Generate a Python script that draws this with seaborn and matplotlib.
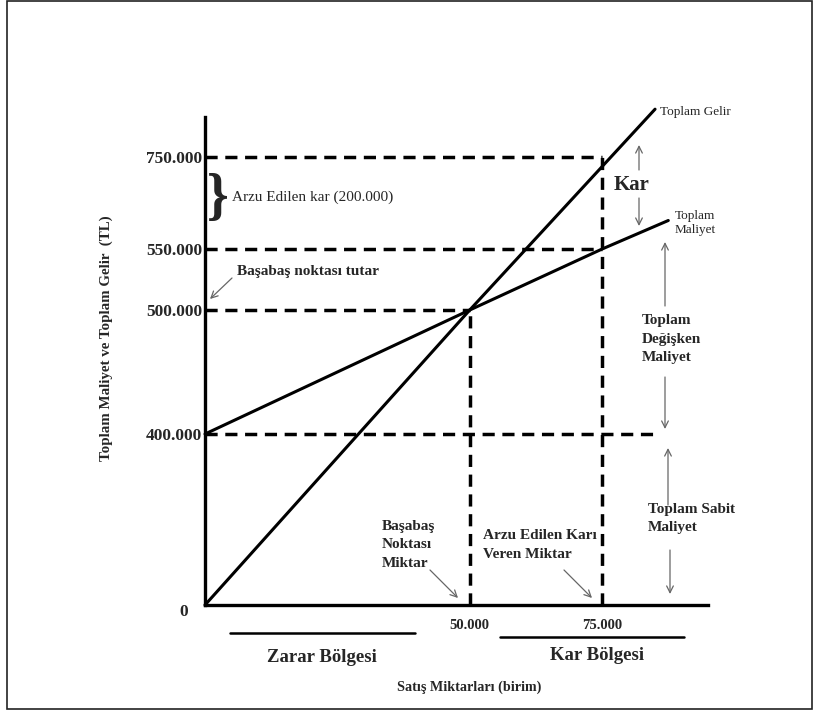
import numpy as np
import pandas as pd
import matplotlib
matplotlib.use("Agg")
import matplotlib.pyplot as plt
from matplotlib.patches import Rectangle
from matplotlib.lines import Line2D
import seaborn as sns

# ---- data ----
units = [0, 50000, 85000]                      # satis miktari
revenue = [0, 500000, 854000]                  # toplam gelir
cost_units = [0, 50000, 75000, 87500]
cost = [400000, 500000, 550000, 612000]        # toplam maliyet

ytick_vals = [400000, 500000, 550000, 750000]
ytick_labels = ["400.000", "500.000", "550.000", "750.000"]
xtick_vals = [50000, 75000]
xtick_labels = ["50.000", "75.000"]

breakeven_q, breakeven_tl = 50000, 500000
target_q, target_tl = 75000, 750000
target_cost = 550000
fixed_cost = 400000
fixed_line_end = 85000

df = pd.DataFrame({
    "miktar": units + cost_units,
    "tutar": revenue + cost,
    "seri": ["Toplam Gelir"] * len(units) + ["Toplam Maliyet"] * len(cost_units),
})

# schematic (non-linear) y axis of the original drawing
scale_vals = [-100000, 0, 400000, 500000, 550000, 750000, 1000000]
scale_pos = [-42.75, 0, 171, 295, 356, 448, 563]


def fwd(v):
    return np.interp(v, scale_vals, scale_pos)


def inv(p):
    return np.interp(p, scale_pos, scale_vals)


sns.set_theme(style="white")
plt.rcParams["font.family"] = ["Liberation Serif", "DejaVu Serif"]

W, H = 814, 720
fig = plt.figure(figsize=(W / 100, H / 100), dpi=100)


def fx(x):
    return x / W


def fy(y):
    return 1 - y / H


ax = fig.add_axes([fx(205), fy(605), 503 / W, 488 / H])
ax.set_yscale("function", functions=(fwd, inv))

sns.lineplot(data=df, x="miktar", y="tutar", hue="seri", units="seri",
             estimator=None, sort=False, legend=False,
             palette={"Toplam Gelir": "black", "Toplam Maliyet": "black"},
             linewidth=2.2, ax=ax)
for ln in ax.lines:
    ln.set_clip_on(False)

# dashed guide lines
dash = dict(color="black", linewidth=2.5, dashes=(3.5, 2.2), clip_on=False)
ax.plot([0, target_q], [target_tl, target_tl], **dash)
ax.plot([0, target_q], [target_cost, target_cost], **dash)
ax.plot([0, breakeven_q], [breakeven_tl, breakeven_tl], **dash)
ax.plot([0, fixed_line_end], [fixed_cost, fixed_cost], **dash)
ax.plot([breakeven_q, breakeven_q], [0, breakeven_tl], **dash)
ax.plot([target_q, target_q], [0, target_tl], **dash)

ax.set_xlim(0, 95000)
ax.set_ylim(0, 837000)
ax.set_yticks(ytick_vals)
ax.set_yticklabels(ytick_labels, fontsize=12.5, fontweight="bold")
ax.set_xticks(xtick_vals)
ax.set_xticklabels(xtick_labels, fontsize=10.5, fontweight="bold")
ax.tick_params(axis="y", length=0, pad=2)
ax.tick_params(axis="x", length=0, pad=10)
ax.set_xlabel("")
ax.set_ylabel("")
sns.despine(ax=ax)
for s in ["left", "bottom"]:
    ax.spines[s].set_linewidth(2.4)
    ax.spines[s].set_color("black")
ax.grid(False)

# ---- texts ----
fig.text(fx(184), fy(612), "0", fontsize=12.5, fontweight="bold", ha="center", va="center")
fig.text(fx(106), fy(338), "Toplam Maliyet ve Toplam Gelir  (TL)", rotation=90,
         fontsize=10.8, fontweight="bold", ha="center", va="center")
fig.text(fx(469), fy(687), "Satış Miktarları (birim)", fontsize=10.2,
         fontweight="bold", ha="center", va="center")

fig.text(fx(660), fy(112), "Toplam Gelir", fontsize=9.5, ha="left", va="center")
fig.text(fx(675), fy(223), "Toplam\nMaliyet", fontsize=9.5, ha="left", va="center",
         linespacing=1.2)
fig.text(fx(632), fy(185), "Kar", fontsize=15, fontweight="bold", ha="center", va="center")
fig.text(fx(642), fy(339), "Toplam\nDeğişken\nMaliyet", fontsize=11, fontweight="bold",
         ha="left", va="center", linespacing=1.55)
fig.text(fx(648), fy(518), "Toplam Sabit\nMaliyet", fontsize=11, fontweight="bold",
         ha="left", va="center", linespacing=1.5)

fig.text(fx(218), fy(199), "}", fontsize=40, fontweight="bold", ha="center", va="center")
fig.text(fx(232), fy(197), "Arzu Edilen kar (200.000)", fontsize=11,
         ha="left", va="center")
fig.text(fx(237), fy(271), "Başabaş noktası tutar", fontsize=11, fontweight="bold",
         ha="left", va="center")
fig.text(fx(382), fy(545), "Başabaş\nNoktası\nMiktar", fontsize=11, fontweight="bold",
         ha="left", va="center", linespacing=1.55)
fig.text(fx(483), fy(545), "Arzu Edilen Karı\nVeren Miktar", fontsize=11,
         fontweight="bold", ha="left", va="center", linespacing=1.55)

fig.text(fx(322), fy(657), "Zarar Bölgesi", fontsize=13.5, fontweight="bold",
         ha="center", va="center")
fig.text(fx(597), fy(655), "Kar Bölgesi", fontsize=13.5, fontweight="bold",
         ha="center", va="center")

# ---- arrows ----
arrows = [
    ((639, 170), (639, 145)),
    ((639, 198), (639, 226)),
    ((665, 306), (665, 242)),
    ((665, 377), (665, 429)),
    ((668, 505), (668, 448)),
    ((670, 550), (670, 594)),
    ((232, 278), (210, 299)),
    ((430, 570), (458, 598)),
    ((564, 570), (592, 598)),
]
for (x0, y0), (x1, y1) in arrows:
    fig.add_artist(plt.Annotation("", xy=(fx(x1), fy(y1)), xytext=(fx(x0), fy(y0)),
                                  xycoords="figure fraction", textcoords="figure fraction",
                                  arrowprops=dict(arrowstyle="->", color="#666666",
                                                  lw=0.9, shrinkA=0, shrinkB=0)))

# region underlines
fig.add_artist(Line2D([fx(230), fx(415)], [fy(633), fy(633)], color="black", lw=1.8))
fig.add_artist(Line2D([fx(500), fx(684)], [fy(637), fy(637)], color="black", lw=1.8))

# outer frame
fig.add_artist(Rectangle((fx(7), fy(709)), (812 - 7) / W, (709 - 1) / H,
                         fill=False, edgecolor="#222222", lw=1.2,
                         transform=fig.transFigure))

fig.savefig("out.png", dpi=100, facecolor="white")
